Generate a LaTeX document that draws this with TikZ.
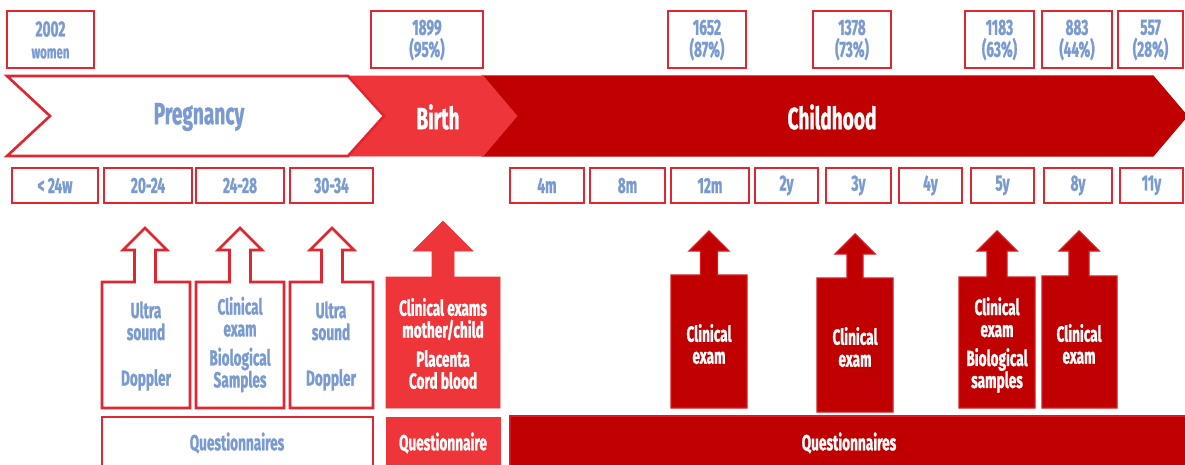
\documentclass[tikz,border=0pt]{standalone}
\usepackage{fontspec}
\setmainfont[FakeStretch=0.62, BoldFeatures={FakeBold=1}]{Fira Sans}

\definecolor{frame}{HTML}{E02630}
\definecolor{lightred}{HTML}{EE3539}
\definecolor{darkred}{HTML}{C00000}
\definecolor{txtblue}{HTML}{7A9BD0}

% up arrow callout: style, left, right, top, bottom, arrow x, tip y, shaft half, head half
\newcommand{\upcallout}[9]{%
  \draw[#1] (#2,#5) -- (#2,#4) -- ({#6-#8},#4) -- ({#6-#8},{#7+#9})
    -- ({#6-#9},{#7+#9}) -- (#6,#7) -- ({#6+#9},{#7+#9}) -- ({#6+#8},{#7+#9})
    -- ({#6+#8},#4) -- (#3,#4) -- (#3,#5) -- cycle;}

\begin{document}
\begin{tikzpicture}[x=0.02cm, y=-0.02cm,
    redframe/.style={draw=frame, line width=1.5pt, fill=white},
    lightbox/.style={draw=lightred, fill=lightred},
    darkbox/.style={draw=frame!70!darkred, line width=0.8pt, fill=darkred},
    label/.style={font=\bfseries\fontsize{12.5}{12.5}\selectfont, align=center, inner sep=0pt},
    bluetxt/.style={label, text=txtblue},
    whitetxt/.style={label, text=white},
    phase/.style={font=\bfseries\fontsize{17.5}{18}\selectfont, inner sep=0pt}]
  \useasboundingbox (0,0) rectangle (1185,464);

  % phases
  \draw[darkbox, draw=darkred] (483,76) -- (1153,76) -- (1187,116) -- (1153,156) -- (483,156) -- (517,116) -- cycle;
  \draw[lightbox] (348,76) -- (483,76) -- (517,116) -- (483,156) -- (348,156) -- (384,116) -- cycle;
  \draw[redframe] (7,76) -- (348,76) -- (384,116) -- (348,156) -- (7,156) -- (50,116) -- cycle;
  \node[phase, text=txtblue] (preg) at (199,117) {Pregnancy};
  \node[phase, text=white] (birth) at (438,117) {Birth};
  \node[phase, text=white] (child) at (832,117) {Childhood};

  % numbers
  \foreach \nm/\xa/\xb/\txt in {w/7/94/{2002\\{\fontsize{10.5}{10}\selectfont women}},
      b/371/483/{1899\\(95\%)}, m12/668/746/{1652\\(87\%)}, y3/813/891/{1378\\(73\%)},
      y5/965/1034/{1183\\(63\%)}, y8/1042/1112/{883\\(44\%)}, y11/1118/1183/{557\\(28\%)}} {
    \draw[redframe] (\xa,11) rectangle (\xb,68);
    \node[bluetxt] (n\nm) at ({(\xa+\xb)/2},40) {\txt};
  }

  % ages
  \foreach \nm/\xa/\xb/\txt in {w0/12/98/{< 24w}, w20/104/192/{20-24}, w24/196/284/{24-28},
      w30/290/373/{30-34}, m4/510/584/{4m}, m8/590/665/{8m}, m12/671/749/{12m},
      y2/755/818/{2y}, y3/826/891/{3y}, y4/899/962/{4y}, y5/971/1034/{5y},
      y8/1044/1112/{8y}, y11/1120/1183/{11y}} {
    \draw[redframe] (\xa,168) rectangle (\xb,203);
    \node[bluetxt] (a\nm) at ({(\xa+\xb)/2},185.5) {\txt};
  }

  % examinations
  \upcallout{redframe}{102}{190}{282}{408}{145}{228}{10.5}{22}
  \upcallout{redframe}{196}{284}{282}{408}{240}{228}{10.5}{22}
  \upcallout{redframe}{290}{373}{282}{408}{332}{228}{10.5}{22}
  \upcallout{lightbox}{386}{500}{277}{408}{443}{221}{11}{30}
  \upcallout{darkbox}{671}{747}{275}{408}{709}{231}{8.5}{20}
  \upcallout{darkbox}{817}{893}{278}{412}{855}{234}{8}{20}
  \upcallout{darkbox}{959}{1035}{277}{408}{997}{231}{10}{20}
  \upcallout{darkbox}{1042}{1117}{276}{408}{1079}{231}{10}{20}

  \node[bluetxt] (e20) at (146,346) {Ultra\\sound\\[13.5pt]Doppler};
  \node[bluetxt] (e24) at (240,344.5) {Clinical\\exam\\[4pt]Biological\\Samples};
  \node[bluetxt] (e30) at (331,346) {Ultra\\sound\\[13.5pt]Doppler};
  \node[whitetxt] (ebirth) at (443,343.5) {Clinical exams\\mother/child\\[4pt]Placenta\\Cord blood};
  \node[whitetxt] (e12m) at (709,344) {Clinical\\exam};
  \node[whitetxt] (e3y) at (855,347) {Clinical\\exam};
  \node[whitetxt] (e5y) at (997,345) {Clinical\\exam\\[4pt]Biological\\samples};
  \node[whitetxt] (e8y) at (1079,344) {Clinical\\exam};

  % questionnaires
  \draw[redframe] (102,417) rectangle (373,470);
  \draw[lightbox] (386,417) rectangle (500,470);
  \draw[darkbox] (510,416) rectangle (1192,470);
  \node[bluetxt] (qpreg) at (237,443) {Questionnaires};
  \node[whitetxt] (qbirth) at (443,443) {Questionnaire};
  \node[whitetxt] (qchild) at (849,443) {Questionnaires};
\end{tikzpicture}
\end{document}
